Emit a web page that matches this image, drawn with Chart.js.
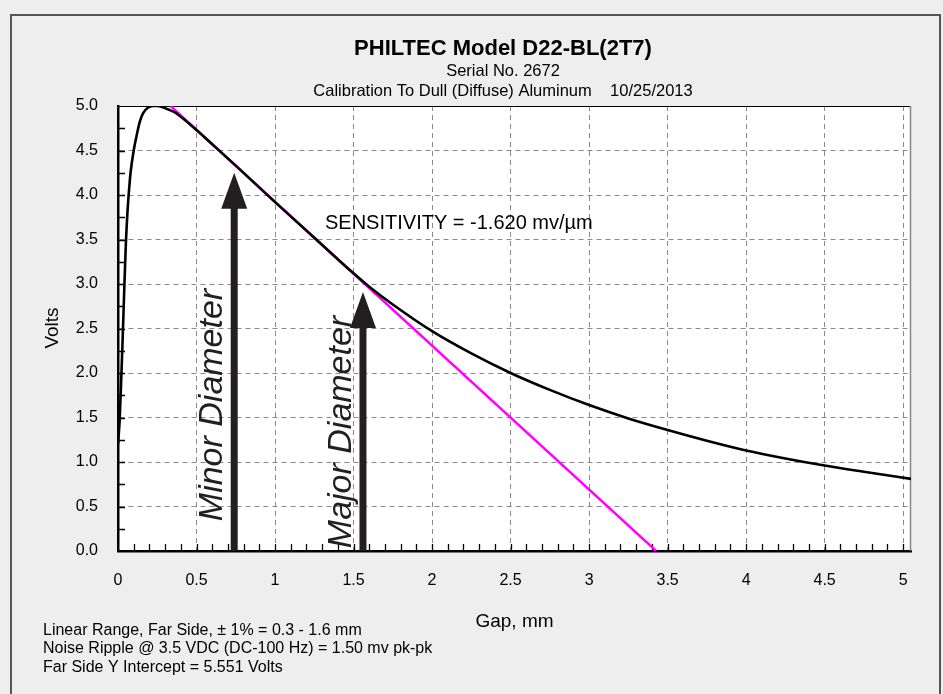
<!DOCTYPE html>
<html>
<head>
<meta charset="utf-8">
<script src="https://cdn.jsdelivr.net/npm/chart.js@4.4.1/dist/chart.umd.min.js"></script>
<style>
  html, body { margin: 0; padding: 0; background: #eeeeee; }
  #wrap { width: 943px; height: 694px; }
</style>
</head>
<body>
<div id="wrap"><canvas id="chart" width="943" height="694"></canvas></div>
<script>
// calibration curve (gap in mm, output in volts)
const gapMm = [0, 0.01, 0.02, 0.03, 0.04, 0.05, 0.06, 0.07, 0.08, 0.10, 0.12, 0.14, 0.16, 0.19, 0.22, 0.25, 0.28,
  0.32, 0.36, 0.40, 0.50, 0.60, 0.75, 1.0, 1.25, 1.5, 1.6, 1.75, 2.0, 2.25, 2.5, 2.75, 3.0, 3.25, 3.5, 3.75,
  4.0, 4.25, 4.5, 4.75, 5.05];
const volts = [1.2, 1.45, 1.9, 2.4, 2.95, 3.45, 3.8, 4.05, 4.25, 4.5, 4.68, 4.83, 4.92, 4.98, 5.0, 5.0, 4.99,
  4.96, 4.93, 4.88, 4.73, 4.57, 4.33, 3.92, 3.52, 3.12, 2.97, 2.77, 2.47, 2.22, 2.0, 1.81, 1.64, 1.49, 1.36, 1.24,
  1.13, 1.04, 0.96, 0.89, 0.81];

// linear fit (sensitivity line), its two end points
const fitGap = [0.335, 3.427];
const fitVolts = [5.0, 0.0];

// arrows: gap where they stand, voltage of the tip
const arrowGap = [0.74, 1.56];
const arrowTip = [4.25, 2.91];
const arrowNames = ['Minor Diameter', 'Major Diameter'];

// tick labels
const xTicks = [0, 0.5, 1, 1.5, 2, 2.5, 3, 3.5, 4, 4.5, 5];
const yTicks = [0, 0.5, 1, 1.5, 2, 2.5, 3, 3.5, 4, 4.5, 5];

const titleLines = ['PHILTEC Model D22-BL(2T7)', 'Serial No. 2672', 'Calibration To Dull (Diffuse) Aluminum    10/25/2013'];
const noteLines = [
  'Linear Range, Far Side, \u00b1 1% = 0.3 - 1.6 mm',
  'Noise Ripple @ 3.5 VDC (DC-100 Hz) = 1.50 mv pk-pk',
  'Far Side Y Intercept = 5.551 Volts'
];
const sensitivityText = 'SENSITIVITY = -1.620 mv/\u00b5m';

const FONT = '"Liberation Sans", Arial, sans-serif';
const INK = '#231f20';

const decor = {
  id: 'decor',
  beforeDraw(chart) {
    const { ctx, chartArea: a } = chart;
    ctx.save();
    ctx.fillStyle = '#eeeeee';
    ctx.fillRect(0, 0, chart.width, chart.height);
    ctx.fillStyle = '#ffffff';
    ctx.fillRect(a.left, a.top, a.right - a.left, a.bottom - a.top);
    // outer frame (open at the bottom, as in the scan)
    ctx.strokeStyle = '#555555';
    ctx.lineWidth = 2;
    ctx.beginPath();
    ctx.moveTo(11, 694);
    ctx.lineTo(11, 15);
    ctx.lineTo(940, 15);
    ctx.lineTo(940, 694);
    ctx.stroke();
    ctx.restore();
  },
  beforeDatasetsDraw(chart) {
    const { ctx, chartArea: a, scales: { x, y } } = chart;
    ctx.save();

    // top and right plot border
    ctx.strokeStyle = '#000';
    ctx.lineWidth = 1;
    ctx.beginPath();
    ctx.moveTo(a.left, a.top + 0.5);
    ctx.lineTo(a.right, a.top + 0.5);
    ctx.stroke();
    ctx.strokeStyle = '#888';
    ctx.lineWidth = 1.5;
    ctx.beginPath();
    ctx.moveTo(a.right - 0.5, a.top);
    ctx.lineTo(a.right - 0.5, a.bottom);
    ctx.stroke();

    // minor ticks pointing inward
    ctx.strokeStyle = '#000';
    ctx.lineWidth = 1.3;
    ctx.beginPath();
    for (let i = 1; i <= 50; i++) {
      const px = Math.round(x.getPixelForValue(i / 10)) + 0.5;
      ctx.moveTo(px, a.bottom);
      ctx.lineTo(px, a.bottom - 7);
    }
    for (let i = 1; i < 20; i++) {
      const py = Math.round(y.getPixelForValue(i / 4)) + 0.5;
      ctx.moveTo(a.left, py);
      ctx.lineTo(a.left + 7, py);
    }
    ctx.stroke();

    // arrows
    ctx.fillStyle = INK;
    arrowGap.forEach((g, i) => {
      const cx = x.getPixelForValue(g);
      const tip = y.getPixelForValue(arrowTip[i]);
      const base = a.bottom;
      const headH = 36, headW = 26, shaft = 7;
      ctx.fillRect(cx - shaft / 2, tip + headH - 1, shaft, base - tip - headH + 1);
      ctx.beginPath();
      ctx.moveTo(cx, tip);
      ctx.lineTo(cx + headW / 2, tip + headH);
      ctx.lineTo(cx - headW / 2, tip + headH);
      ctx.closePath();
      ctx.fill();
    });

    // rotated arrow captions
    const captionMid = [a.bottom - 146, a.bottom - 119];
    ctx.font = 'italic 34px ' + FONT;
    ctx.textAlign = 'center';
    ctx.textBaseline = 'alphabetic';
    arrowNames.forEach((name, i) => {
      const cx = x.getPixelForValue(arrowGap[i]);
      ctx.save();
      ctx.translate(cx - 12, captionMid[i]);
      ctx.rotate(-Math.PI / 2);
      ctx.fillText(name, 0, 0);
      ctx.restore();
    });

    // sensitivity note
    ctx.font = '20px ' + FONT;
    ctx.textAlign = 'left';
    ctx.fillStyle = '#000';
    ctx.fillText(sensitivityText, 325, 229);
    ctx.restore();
  },
  afterDraw(chart) {
    const { ctx, chartArea: a } = chart;
    ctx.save();
    ctx.fillStyle = '#000';
    ctx.textAlign = 'center';
    ctx.textBaseline = 'alphabetic';
    const cx = 503;
    ctx.font = 'bold 22px ' + FONT;
    ctx.fillText(titleLines[0], cx, 55);
    ctx.font = '16.5px ' + FONT;
    ctx.fillText(titleLines[1], cx, 76);
    ctx.fillText(titleLines[2], cx, 96);

    // axis titles
    ctx.font = '19px ' + FONT;
    ctx.fillText('Gap, mm', (a.left + a.right) / 2, 627);
    ctx.save();
    ctx.translate(58, 328);
    ctx.rotate(-Math.PI / 2);
    ctx.fillText('Volts', 0, 0);
    ctx.restore();

    // notes under the plot
    ctx.font = '16px ' + FONT;
    ctx.textAlign = 'left';
    noteLines.forEach((t, i) => ctx.fillText(t, 43, 635 + i * 18.3));
    ctx.restore();
  }
};

const ctx = document.getElementById('chart').getContext('2d');
new Chart(ctx, {
  type: 'scatter',
  data: {
    datasets: [
      {
        label: 'Calibration',
        data: gapMm.map((g, i) => ({ x: g, y: volts[i] })),
        showLine: true,
        borderColor: '#000',
        borderWidth: 2.6,
        pointRadius: 0,
        cubicInterpolationMode: 'monotone'
      },
      {
        label: 'Linear fit',
        data: fitGap.map((g, i) => ({ x: g, y: fitVolts[i] })),
        showLine: true,
        borderColor: '#ff00ff',
        borderWidth: 2.4,
        pointRadius: 0
      }
    ]
  },
  options: {
    responsive: false,
    animation: false,
    layout: { padding: { left: 0, right: 32, top: 106, bottom: 0 } },
    plugins: {
      legend: { display: false },
      tooltip: { enabled: false }
    },
    scales: {
      x: {
        type: 'linear',
        min: 0,
        max: 5.05,
        afterFit: s => { s.height = 143; },
        afterBuildTicks: s => { s.ticks = xTicks.map(v => ({ value: v })); },
        ticks: {
          includeBounds: false,
          padding: 20,
          color: '#000',
          font: { family: FONT, size: 16 },
          maxRotation: 0,
          callback: v => String(v)
        },
        grid: { color: '#8a8a8a', lineWidth: 1, drawTicks: false },
        border: { display: true, color: '#000', width: 2.5, dash: [5, 4] }
      },
      y: {
        type: 'linear',
        min: 0,
        max: 5,
        afterFit: s => { s.width = 118; },
        afterBuildTicks: s => { s.ticks = yTicks.map(v => ({ value: v })); },
        ticks: {
          padding: 20,
          color: '#000',
          font: { family: FONT, size: 16 },
          callback: v => Number(v).toFixed(1)
        },
        grid: { color: '#8a8a8a', lineWidth: 1, drawTicks: false },
        border: { display: true, color: '#000', width: 2.5, dash: [5, 4] }
      }
    }
  },
  plugins: [decor]
});
</script>
</body>
</html>
